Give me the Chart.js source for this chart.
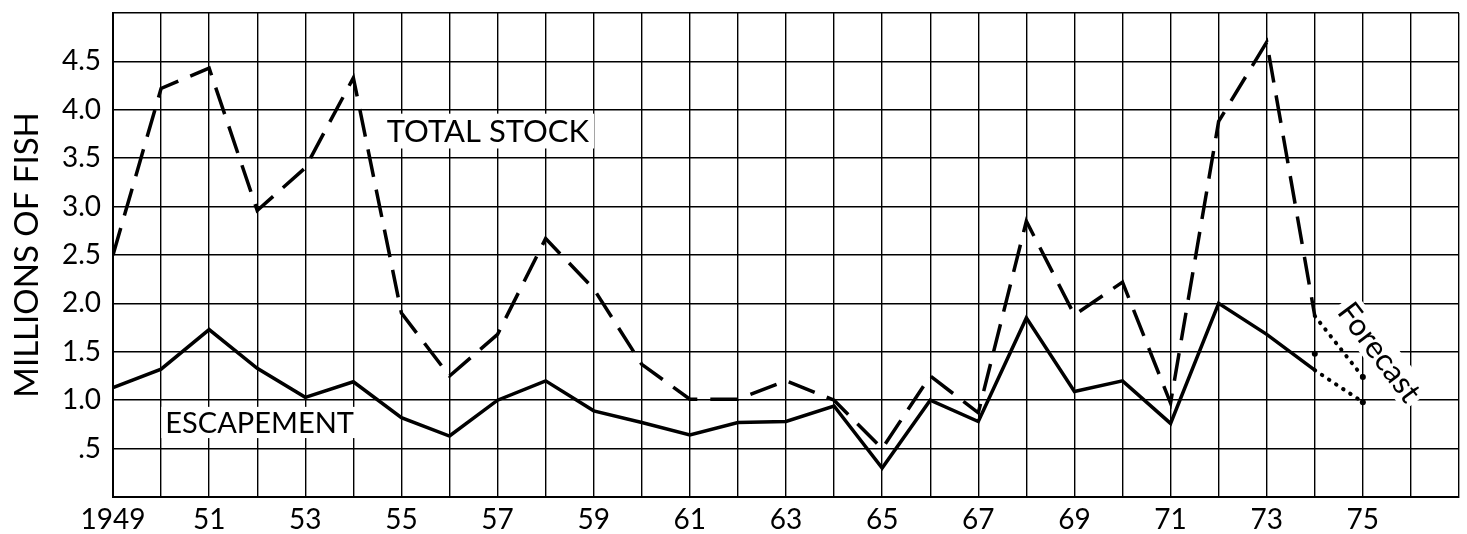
<!DOCTYPE html>
<html>
<head>
<meta charset="utf-8">
<script src="https://cdn.jsdelivr.net/npm/chart.js@4.4.1/dist/chart.umd.min.js"></script>
<style>
  html,body{margin:0;padding:0;background:#fff;}
  #wrap{width:1467px;height:534px;}
</style>
</head>
<body>
<div id="wrap"><canvas id="c" width="1467" height="534"></canvas></div>
<script>
// ---- data ----
const years = [1949,1950,1951,1952,1953,1954,1955,1956,1957,1958,1959,1960,1961,1962,1963,1964,1965,1966,1967,1968,1969,1970,1971,1972,1973,1974];
const totalStock = [2.5,4.22,4.43,2.96,3.4,4.33,1.9,1.25,1.68,2.67,2.15,1.37,1.01,1.01,1.2,1.0,0.5,1.25,0.87,2.85,1.88,2.22,0.97,3.88,4.7,1.87];
const escapement = [1.13,1.32,1.73,1.33,1.03,1.19,0.82,0.63,1.0,1.2,0.89,0.77,0.64,0.77,0.78,0.94,0.3,1.0,0.78,1.85,1.09,1.2,0.76,2.0,1.68,1.31];
const forecastYears = [1974,1975];
const forecastStock = [1.87,1.24];
const forecastEscapement = [1.31,0.98];
const markerYears = [1974];
const markerValues = [1.48];
const xTickYears = [1949,1951,1953,1955,1957,1959,1961,1963,1965,1967,1969,1971,1973,1975];
const yTickLabels = {0.5:'.5',1:'1.0',1.5:'1.5',2:'2.0',2.5:'2.5',3:'3.0',3.5:'3.5',4:'4.0',4.5:'4.5'};

const toXY = (xs, ys) => xs.map((x,i)=>({x:x, y:ys[i]}));
const FONT = 'Lato, "DejaVu Sans", sans-serif';

const textPlugin = {
  id:'labels',
  afterDatasetsDraw(chart, args, opts){
    const ctx = chart.ctx;
    const xs = chart.scales.x, ys = chart.scales.y;
    opts.items.forEach(it=>{
      const px = xs.getPixelForValue(it.x), py = ys.getPixelForValue(it.y);
      ctx.save();
      ctx.translate(px,py);
      ctx.rotate((it.rot||0)*Math.PI/180);
      ctx.font = it.size+'px '+FONT;
      const w = ctx.measureText(it.text).width;
      const h = it.size*0.8;
      ctx.fillStyle='#fff';
      ctx.fillRect(-w/2-it.pad, -h/2-it.pad, w+2*it.pad, h+2*it.pad);
      ctx.fillStyle='#000';
      ctx.textAlign='center';
      ctx.textBaseline='middle';
      ctx.fillText(it.text,0,1);
      ctx.restore();
    });
  }
};

new Chart(document.getElementById('c'), {
  type:'line',
  data:{
    datasets:[
      {label:'Total stock', data:toXY(years,totalStock), borderColor:'#000', borderWidth:3.5, borderDash:[28,13], pointRadius:0, tension:0},
      {label:'Escapement', data:toXY(years,escapement), borderColor:'#000', borderWidth:3.5, pointRadius:0, tension:0},
      {label:'Forecast stock', data:toXY(forecastYears,forecastStock), borderColor:'#000', borderWidth:4, borderDash:[0.5,8], borderCapStyle:'round', pointRadius:[0,3], pointBackgroundColor:'#000', pointBorderWidth:0, tension:0},
      {label:'Forecast escapement', data:toXY(forecastYears,forecastEscapement), borderColor:'#000', borderWidth:4, borderDash:[0.5,8], borderCapStyle:'round', pointRadius:[0,3], pointBackgroundColor:'#000', pointBorderWidth:0, tension:0},
      {label:'Marker', data:toXY(markerYears,markerValues), showLine:false, pointRadius:3, pointBackgroundColor:'#000', pointBorderWidth:0}
    ]
  },
  options:{
    responsive:false,
    animation:false,
    layout:{padding:{top:0,right:8,left:0,bottom:0}},
    plugins:{
      legend:{display:false},
      tooltip:{enabled:false},
      labels:{items:[
        {text:'TOTAL STOCK', x:1956.8, y:3.78, size:31, rot:0, pad:5},
        {text:'ESCAPEMENT', x:1952.05, y:0.77, size:29, rot:0, pad:4},
        {text:'Forecast', x:1975.35, y:1.5, size:31, rot:53, pad:4}
      ]}
    },
    scales:{
      x:{
        type:'linear', min:1949, max:1977,
        afterBuildTicks(s){ s.ticks = []; for(let y=1949;y<=1977;y++) s.ticks.push({value:y}); },
        afterFit(s){ s.height = 37; },
        grid:{color:'#000', lineWidth:1.4, drawTicks:false},
        border:{color:'#000', width:2},
        ticks:{
          autoSkip:false, maxRotation:0, padding:6, color:'#000',
          font:{family:FONT, size:28},
          callback(v){ if(!xTickYears.includes(v)) return ''; return v===1949 ? '1949' : String(v).slice(2); }
        }
      },
      y:{
        min:0, max:5,
        afterBuildTicks(s){ s.ticks = []; for(let i=0;i<=10;i++) s.ticks.push({value:i/2}); },
        afterFit(s){ s.width = 113; },
        grid:{color:'#000', lineWidth:1.4, drawTicks:false},
        border:{color:'#000', width:2},
        ticks:{
          padding:12, color:'#000',
          font:{family:FONT, size:28, lineHeight:0.07},
          callback(v){ return yTickLabels[v] || ''; }
        },
        title:{display:true, text:'MILLIONS OF FISH', color:'#000', font:{family:FONT, size:33}, padding:{top:8,bottom:0}}
      }
    }
  },
  plugins:[textPlugin]
});
</script>
</body>
</html>
